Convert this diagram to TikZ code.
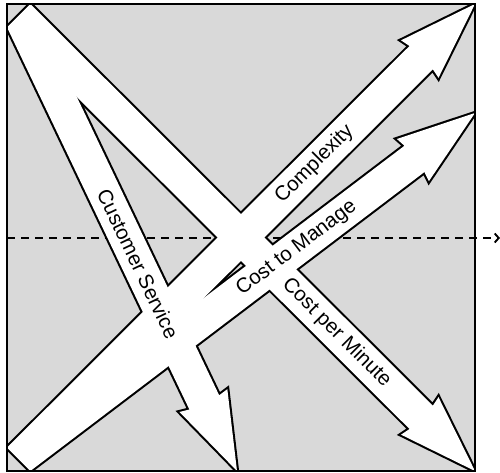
\documentclass[tikz,border=0pt]{standalone}
\usepackage{fontspec}
\setmainfont{Liberation Sans}
\usetikzlibrary{arrows.meta,calc}

\tikzset{
  pics/fatarrow/.style={code={
    \path[pic actions] (0,-16.5) -- ({#1-76},-16.5) -- ({#1-78},-26.5)
      -- (#1,0) -- ({#1-78},26.5) -- ({#1-76},16.5) -- (0,16.5) -- cycle;
  }},
}

\begin{document}
\begin{tikzpicture}[
    x=1pt, y=1pt,
    panel/.style={fill=black!15},
    frame/.style={draw=black, line width=2pt},
    rim/.style={draw=black, line width=4.2pt},
    body/.style={fill=white},
    axis/.style={-{Straight Barb[length=4pt,width=9pt]}, line width=1.9pt,
      dash pattern=on 8pt off 6pt},
    lbl/.style={font=\fontsize{20.5}{24}\selectfont, inner sep=0pt}
  ]
  \useasboundingbox (0,0) rectangle (500,473);
  \fill[panel] (7,2) rectangle (475,469);

  \coordinate (tl) at (18.7,457.3);
  \coordinate (tlB) at (21.9,452.8);
  \coordinate (bl) at (18.7,13.7);
  \coordinate (blD) at (20.3,15.15);
  \coordinate (tipA) at (475,2);
  \coordinate (tipB) at (237,2);
  \coordinate (tipC) at (475,469);
  \coordinate (tipD) at (475,360);
  \coordinate (axL) at (7,235);
  \coordinate (axR) at (500,235);

  \draw[axis] (axL) -- (axR);

  \begin{scope}
    \clip (7,2) rectangle (475,469);
    % outlines first, then the white bodies over them
    \pic[rim, rotate=-44.94] at (tl) {fatarrow=644.6};
    \pic[rim, rotate=-64.49] at (tlB) {fatarrow=499.5};
    \pic[rim, rotate=44.94] at (bl) {fatarrow=644.6};
    \pic[rim, rotate=37.18] at (blD) {fatarrow=570.7};
    \pic[body, rotate=-44.94] at (tl) {fatarrow=644.6};
    \pic[body, rotate=-64.49] at (tlB) {fatarrow=499.5};
    \pic[body, rotate=44.94] at (bl) {fatarrow=644.6};
    \pic[body, rotate=37.18] at (blD) {fatarrow=570.7};
  \end{scope}
  \draw[frame] (7,2) rectangle (475,469);

  \node[lbl, rotate=-64.49] (service) at ($(tlB)!270pt!(tipB)$) {Customer Service};
  \node[lbl, rotate=-44.94] (minute) at ($(tl)!449pt!(tipA)$) {Cost per Minute};
  \node[lbl, rotate=44.94] (complex) at ($(bl)!418pt!(tipC)$) {Complexity};
  \node[lbl, rotate=37.18] (manage) at ($(blD)!347pt!(tipD)$) {Cost to Manage};
\end{tikzpicture}
\end{document}
